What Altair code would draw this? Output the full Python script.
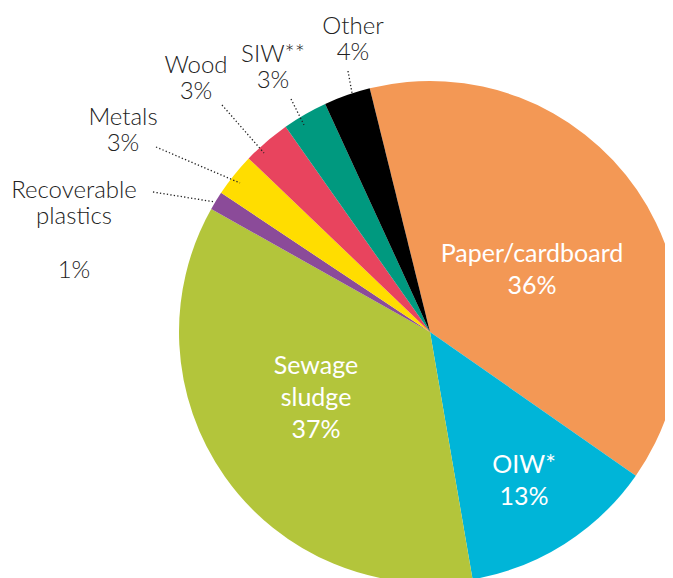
import math
import altair as alt
import pandas as pd

# ---- data ----
categories = ["Paper/cardboard", "OIW*", "Sewage sludge", "Recoverable plastics",
              "Metals", "Wood", "SIW**", "Other"]
shares = [38.6, 12.6, 35.9, 1.2, 2.8, 3.1, 2.9, 3.0]          # slice sizes as drawn
label_names = ["Paper/cardboard", "OIW*", "Sewage\nsludge", "Recoverable\nplastics",
               "Metals", "Wood", "SIW**", "Other"]
label_pcts = ["36%", "13%", "37%", "1%", "3%", "3%", "3%", "4%"]
colors = ["#F39855", "#00B5D8", "#B3C53B", "#8B4B99",
          "#FFDD00", "#E8445E", "#00997F", "#000000"]

# ---- layout ----
W, H = 657, 570
CX, CY, R = 422, 324, 251
START = math.radians(-13.9)
inside = [True, True, True, False, False, False, False, False]
separate_pct = [False, False, False, True, False, False, False, False]
label_x = [524, 516, 308, 66, 115, 188, 265, 345]
name_y = [254, 465, 366, 190, 117, 65, 54, 26]
pct_y = [285, 498, 431, 270, 143, 91, 79, 53]
leaders = {  # (x, y, x2, y2) in plot pixels
    "Recoverable plastics": (145, 184, 207, 194),
    "Metals": (148, 139, 232, 175),
    "Wood": (214, 97, 256, 145),
    "SIW**": (283, 91, 296, 117),
    "Other": (340, 63, 344, 85),
}

rows = []
for i, cat in enumerate(categories):
    if separate_pct[i]:
        rows.append({"text": label_names[i], "x": label_x[i], "y": name_y[i], "inside": inside[i]})
        rows.append({"text": label_pcts[i], "x": label_x[i], "y": pct_y[i], "inside": inside[i]})
    else:
        rows.append({"text": label_names[i] + "\n" + label_pcts[i], "x": label_x[i],
                     "y": name_y[i], "inside": inside[i]})
labels = pd.DataFrame(rows)

pie = pd.DataFrame({"cat": categories, "share": shares, "idx": range(len(categories))})
lead = pd.DataFrame([{"cat": k, "x": v[0], "y": v[1], "x2": v[2], "y2": v[3]}
                     for k, v in leaders.items()])

arcs = alt.Chart(pie).mark_arc(radius=R, x=CX, y=CY, stroke=None).encode(
    theta=alt.Theta("share:Q", stack=True,
                    scale=alt.Scale(range=[START, START + 2 * math.pi])),
    color=alt.Color("cat:N", scale=alt.Scale(domain=categories, range=colors), legend=None),
    order=alt.Order("idx:Q"),
)

rules = alt.Chart(lead).mark_rule(strokeDash=[1.3, 2.2], strokeWidth=1.3, color="#222222").encode(
    x=alt.X("x:Q", scale=None), y=alt.Y("y:Q", scale=None),
    x2="x2:Q", y2="y2:Q",
)

txt_in = alt.Chart(labels).transform_filter("datum.inside").mark_text(
    font="Lato", fontSize=25, fontWeight=400, color="white", align="center",
    baseline="alphabetic", lineBreak="\n", lineHeight=32,
).encode(x=alt.X("x:Q", scale=None), y=alt.Y("y:Q", scale=None), text="text:N")

txt_out = alt.Chart(labels).transform_filter("!datum.inside").mark_text(
    font="Lato", fontSize=24, fontWeight=300, color="#222222", align="center",
    baseline="alphabetic", lineBreak="\n", lineHeight=26,
).encode(x=alt.X("x:Q", scale=None), y=alt.Y("y:Q", scale=None), text="text:N")

chart = alt.layer(arcs, rules, txt_in, txt_out).properties(
    width=W, height=H, padding=0, autosize=alt.AutoSizeParams(type="none")
).configure_view(stroke=None)

chart.save("out.html", embed_options={"renderer": "svg", "actions": False})
